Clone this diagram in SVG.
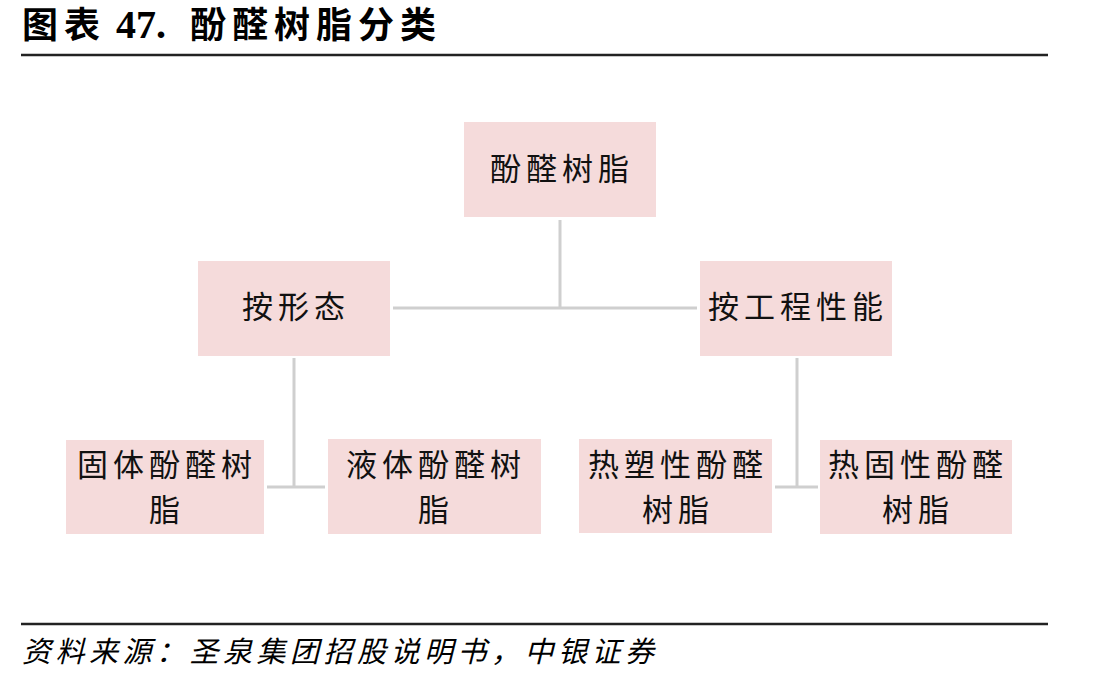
<svg xmlns="http://www.w3.org/2000/svg" width="1101" height="682" viewBox="0 0 1101 682">
<style>
.box{fill:#f5dbdb}
.nt{font-family:"Noto Sans CJK SC","Noto Sans",sans-serif;font-size:31px;fill:#111;text-anchor:middle;letter-spacing:5px}
.title{font-family:"Liberation Serif","Noto Sans CJK SC",serif;font-weight:bold;font-size:36px;fill:#000}
.foot{font-family:"Noto Sans CJK SC",sans-serif;font-style:italic;font-size:29px;fill:#000;letter-spacing:4.5px}
.rule{stroke:#222;stroke-width:2.5}
.conn{stroke:#cfcfcf;stroke-width:3;fill:none}
</style>
<rect width="1101" height="682" fill="#fff"/>
<text class="title" y="38"><tspan x="22" letter-spacing="6">图表</tspan><tspan x="116" font-size="40">47.</tspan><tspan x="190" letter-spacing="6">酚醛树脂分类</tspan></text>
<line class="rule" x1="21" y1="55" x2="1048" y2="55"/>
<g id="connectors">
<path class="conn" d="M560 220 V308 M393 308 H697"/>
<path class="conn" d="M294 358 V487 M267 487 H325"/>
<path class="conn" d="M797 358 V487 M775 487 H818"/>
</g>
<g id="n-root"><rect class="box" x="464" y="122" width="192" height="95"/><text class="nt" x="562" y="180">酚醛树脂</text></g>
<g id="n-form"><rect class="box" x="198" y="261" width="192" height="95"/><text class="nt" x="296" y="318">按形态</text></g>
<g id="n-perf"><rect class="box" x="700" y="261" width="192" height="95"/><text class="nt" x="798" y="318">按工程性能</text></g>
<g id="n-solid"><rect class="box" x="66" y="440" width="198" height="94"/><text class="nt" x="167" y="476">固体酚醛树</text><text class="nt" x="167" y="521">脂</text></g>
<g id="n-liquid"><rect class="box" x="328" y="439" width="213" height="95"/><text class="nt" x="436" y="476">液体酚醛树</text><text class="nt" x="436" y="521">脂</text></g>
<g id="n-thermoplastic"><rect class="box" x="579" y="439" width="193" height="94"/><text class="nt" x="678" y="476">热塑性酚醛</text><text class="nt" x="678" y="521">树脂</text></g>
<g id="n-thermoset"><rect class="box" x="820" y="440" width="192" height="94"/><text class="nt" x="918" y="476">热固性酚醛</text><text class="nt" x="918" y="521">树脂</text></g>
<line class="rule" x1="21" y1="624" x2="1048" y2="624"/>
<text class="foot" x="22" y="662">资料来源：圣泉集团招股说明书，中银证券</text>
</svg>
